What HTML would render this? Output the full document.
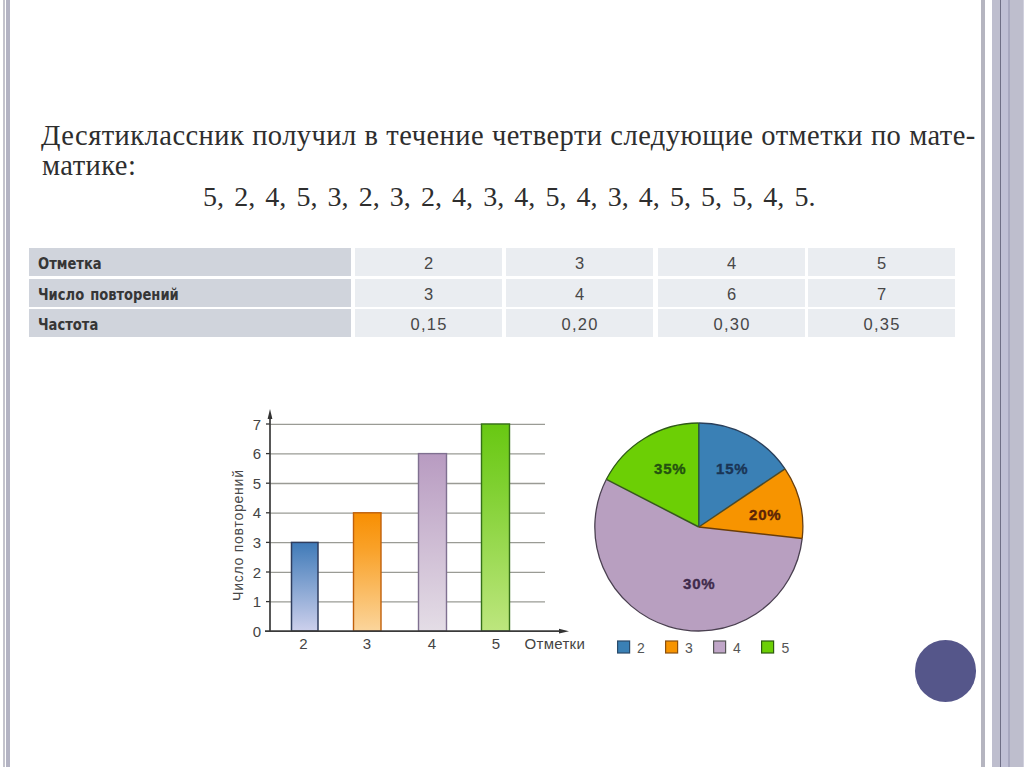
<!DOCTYPE html>
<html lang="ru">
<head>
<meta charset="utf-8">
<title>Частота</title>
<style>
html,body{margin:0;padding:0;}
body{width:1024px;height:767px;overflow:hidden;background:#fff;position:relative;}
.a{position:absolute;}
.v{position:absolute;top:0;height:767px;}
.txt{position:absolute;font-family:"Liberation Serif",serif;color:#2e2e2e;font-size:28.5px;white-space:nowrap;line-height:30px;letter-spacing:0.45px;word-spacing:0.3px;}
.tb{position:absolute;font-family:"Liberation Sans",sans-serif;}
.hd{position:absolute;left:29px;width:322px;height:28px;background:#d0d4dc;}
.hd span{position:absolute;left:8.5px;top:6.5px;font-family:"DejaVu Sans Condensed","DejaVu Sans",sans-serif;font-weight:bold;font-stretch:condensed;font-size:15.5px;color:#363636;transform:scaleX(0.94);transform-origin:0 0;white-space:nowrap;}
.dc{position:absolute;width:147px;height:28px;background:#eaedf1;text-align:center;font-family:"Liberation Sans",sans-serif;font-size:16.5px;color:#474747;line-height:31px;letter-spacing:1.3px;text-indent:1.3px;}
</style>
</head>
<body>
<!-- left frame bars -->
<div class="v" style="left:3px;width:2px;background:#c3c3cc"></div>
<div class="v" style="left:6px;width:4px;background:#b3b3c3"></div>
<!-- right frame bars -->
<div class="v" style="left:981px;width:4px;background:#b5b5c0"></div>
<div class="v" style="left:992px;width:8px;background:#bebece"></div>
<div class="v" style="left:1000px;width:1px;background:#6e6e85"></div>
<div class="v" style="left:1001px;width:7px;background:#c0c0d5"></div>
<div class="v" style="left:1008px;width:2px;background:#a8a8bf"></div>
<div class="v" style="left:1010px;width:13px;background:#bebecd"></div>
<div class="v" style="left:1023px;width:1px;background:#d0d0dd"></div>

<!-- text -->
<div class="txt" id="l1" style="left:41px;top:120.5px;">Десятиклассник получил в течение четверти следующие отметки по мате-</div>
<div class="txt" id="l2" style="left:42px;top:151px;">матике:</div>
<div class="txt" id="l3" style="left:203px;top:182px;font-size:28px;letter-spacing:0;word-spacing:3.13px;">5, 2, 4, 5, 3, 2, 3, 2, 4, 3, 4, 5, 4, 3, 4, 5, 5, 5, 4, 5.</div>

<!-- table -->
<div class="hd" style="top:248px;"><span>Отметка</span></div>
<div class="hd" style="top:279px;"><span style="word-spacing:1.5px">Число повторений</span></div>
<div class="hd" style="top:309px;"><span>Частота</span></div>

<div class="dc" style="left:355px;top:248px;">2</div>
<div class="dc" style="left:506px;top:248px;">3</div>
<div class="dc" style="left:658px;top:248px;">4</div>
<div class="dc" style="left:808px;top:248px;">5</div>
<div class="dc" style="left:355px;top:279px;">3</div>
<div class="dc" style="left:506px;top:279px;">4</div>
<div class="dc" style="left:658px;top:279px;">6</div>
<div class="dc" style="left:808px;top:279px;">7</div>
<div class="dc" style="left:355px;top:309px;">0,15</div>
<div class="dc" style="left:506px;top:309px;">0,20</div>
<div class="dc" style="left:658px;top:309px;">0,30</div>
<div class="dc" style="left:808px;top:309px;">0,35</div>

<!-- charts -->
<svg class="a" style="left:0;top:0" width="1024" height="767" viewBox="0 0 1024 767">
<defs>
<linearGradient id="gb" x1="0" y1="0" x2="0" y2="1"><stop offset="0" stop-color="#3f7ab8"/><stop offset="1" stop-color="#cdd0ec"/></linearGradient>
<linearGradient id="go" x1="0" y1="0" x2="0" y2="1"><stop offset="0" stop-color="#f88f02"/><stop offset="0.3" stop-color="#f9a128"/><stop offset="1" stop-color="#fbd59c"/></linearGradient>
<linearGradient id="gp" x1="0" y1="0" x2="0" y2="1"><stop offset="0" stop-color="#b89bc1"/><stop offset="1" stop-color="#e4dde6"/></linearGradient>
<linearGradient id="gg" x1="0" y1="0" x2="0" y2="1"><stop offset="0" stop-color="#68c812"/><stop offset="0.3" stop-color="#7fd030"/><stop offset="1" stop-color="#bde67e"/></linearGradient>
</defs>
<!-- gridlines -->
<g stroke="#9a9b95" stroke-width="1.3" transform="translate(0,0.3)">
<line x1="270" y1="601.6" x2="545" y2="601.6"/>
<line x1="270" y1="572" x2="545" y2="572"/>
<line x1="270" y1="542.4" x2="545" y2="542.4"/>
<line x1="270" y1="512.8" x2="545" y2="512.8"/>
<line x1="270" y1="483.2" x2="545" y2="483.2"/>
<line x1="270" y1="453.6" x2="545" y2="453.6"/>
<line x1="270" y1="424" x2="545" y2="424"/>
</g>
<!-- ticks -->
<g stroke="#333" stroke-width="1.3">
<line x1="266" y1="601.6" x2="270" y2="601.6"/>
<line x1="266" y1="572" x2="270" y2="572"/>
<line x1="266" y1="542.4" x2="270" y2="542.4"/>
<line x1="266" y1="512.8" x2="270" y2="512.8"/>
<line x1="266" y1="483.2" x2="270" y2="483.2"/>
<line x1="266" y1="453.6" x2="270" y2="453.6"/>
<line x1="266" y1="424" x2="270" y2="424"/>
</g>
<!-- bars -->
<rect x="291.5" y="542.4" width="26.5" height="88.8" fill="url(#gb)" stroke="#2f3d5e" stroke-width="1.5"/>
<rect x="353.5" y="512.8" width="27.5" height="118.4" fill="url(#go)" stroke="#c0600a" stroke-width="1.4"/>
<rect x="418.5" y="453.6" width="28" height="177.6" fill="url(#gp)" stroke="#7f7090" stroke-width="1.4"/>
<rect x="481.5" y="424" width="28" height="207.2" fill="url(#gg)" stroke="#357018" stroke-width="1.4"/>
<!-- axes -->
<g stroke="#3a3a3a" stroke-width="1.7" fill="none">
<line x1="270" y1="632" x2="270" y2="416"/>
<line x1="265" y1="631.2" x2="561" y2="631.2"/>
</g>
<path d="M270,409 L267.6,419 L272.4,419 Z" fill="#333"/>
<path d="M569,631.2 L559,628.8 L559,633.6 Z" fill="#333"/>
<!-- y labels -->
<g font-family="Liberation Sans, sans-serif" font-size="15" fill="#444" text-anchor="end">
<text x="261" y="636.7">0</text>
<text x="261" y="607.1">1</text>
<text x="261" y="577.5">2</text>
<text x="261" y="547.9">3</text>
<text x="261" y="518.3">4</text>
<text x="261" y="488.7">5</text>
<text x="261" y="459.1">6</text>
<text x="261" y="429.5">7</text>
</g>
<g font-family="Liberation Sans, sans-serif" font-size="15" fill="#444" text-anchor="middle">
<text x="303.5" y="648.8">2</text>
<text x="367" y="648.8">3</text>
<text x="432" y="648.8">4</text>
<text x="496" y="648.8">5</text>
</g>
<text x="524.5" y="649" font-family="Liberation Sans, sans-serif" font-size="15" letter-spacing="0.3" fill="#444">Отметки</text>
<text transform="translate(242.6,600.9) rotate(-90)" font-family="Liberation Sans, sans-serif" font-size="14" letter-spacing="0.75" fill="#484848">Число повторений</text>
<!-- pie -->
<g stroke="none">
<path d="M698.8,527.0 L698.8,423.0 A104,104 0 0 1 785.0,468.8 Z" fill="#3a80b5"/>
<path d="M698.8,527.0 L785.0,468.8 A104,104 0 0 1 802.2,538.4 Z" fill="#f79400"/>
<path d="M698.8,527.0 L802.2,538.4 A104,104 0 1 1 606.4,479.3 Z" fill="#b89fc0"/>
<path d="M698.8,527.0 L606.4,479.3 A104,104 0 0 1 698.8,423.0 Z" fill="#6ccf05"/>
</g>
<g fill="none" stroke-width="1.3">
<path d="M698.8,423.0 A104,104 0 0 1 785.0,468.8" stroke="#2a3f5a"/>
<path d="M785.0,468.8 A104,104 0 0 1 802.2,538.4" stroke="#6a4010"/>
<path d="M802.2,538.4 A104,104 0 1 1 606.4,479.3" stroke="#4a4050"/>
<path d="M606.4,479.3 A104,104 0 0 1 698.8,423.0" stroke="#2f5a18"/>
</g>
<g stroke-width="1.5">
<line x1="698.8" y1="527.0" x2="698.8" y2="423.0" stroke="#2a5a38"/>
<line x1="698.8" y1="527.0" x2="785.0" y2="468.8" stroke="#4a4a2a"/>
<line x1="698.8" y1="527.0" x2="802.2" y2="538.4" stroke="#6a3c08"/>
<line x1="698.8" y1="527.0" x2="606.4" y2="479.3" stroke="#36561e"/>
</g>
<g font-family="Liberation Sans, sans-serif" font-size="15" font-weight="bold" letter-spacing="0.8" stroke-width="0.35">
<text x="716" y="474.3" fill="#1a3555" stroke="#1a3555">15%</text>
<text x="749" y="520" fill="#5c2406" stroke="#5c2406">20%</text>
<text x="683" y="589.3" fill="#402b4c" stroke="#402b4c">30%</text>
<text x="654" y="473.7" fill="#245210" stroke="#245210">35%</text>
</g>
<!-- legend -->
<g stroke-width="1.2">
<rect x="617.6" y="641" width="12" height="12" fill="#3a80b5" stroke="#2a4a6a"/>
<rect x="665.6" y="641" width="12" height="12" fill="#f79400" stroke="#8a5010"/>
<rect x="713.6" y="641" width="12" height="12" fill="#c0a6c8" stroke="#555"/>
<rect x="761.6" y="641" width="12" height="12" fill="#6ccf05" stroke="#2d5a10"/>
</g>
<g font-family="Liberation Sans, sans-serif" font-size="14" fill="#555">
<text x="637" y="653.2">2</text>
<text x="685" y="653.2">3</text>
<text x="733" y="653.2">4</text>
<text x="781.5" y="653.2">5</text>
</g>
</svg>

<!-- bottom-right circle -->
<div class="a" style="left:914.8px;top:640.3px;width:61.6px;height:61.6px;border-radius:50%;background:#55568a;"></div>
</body>
</html>
